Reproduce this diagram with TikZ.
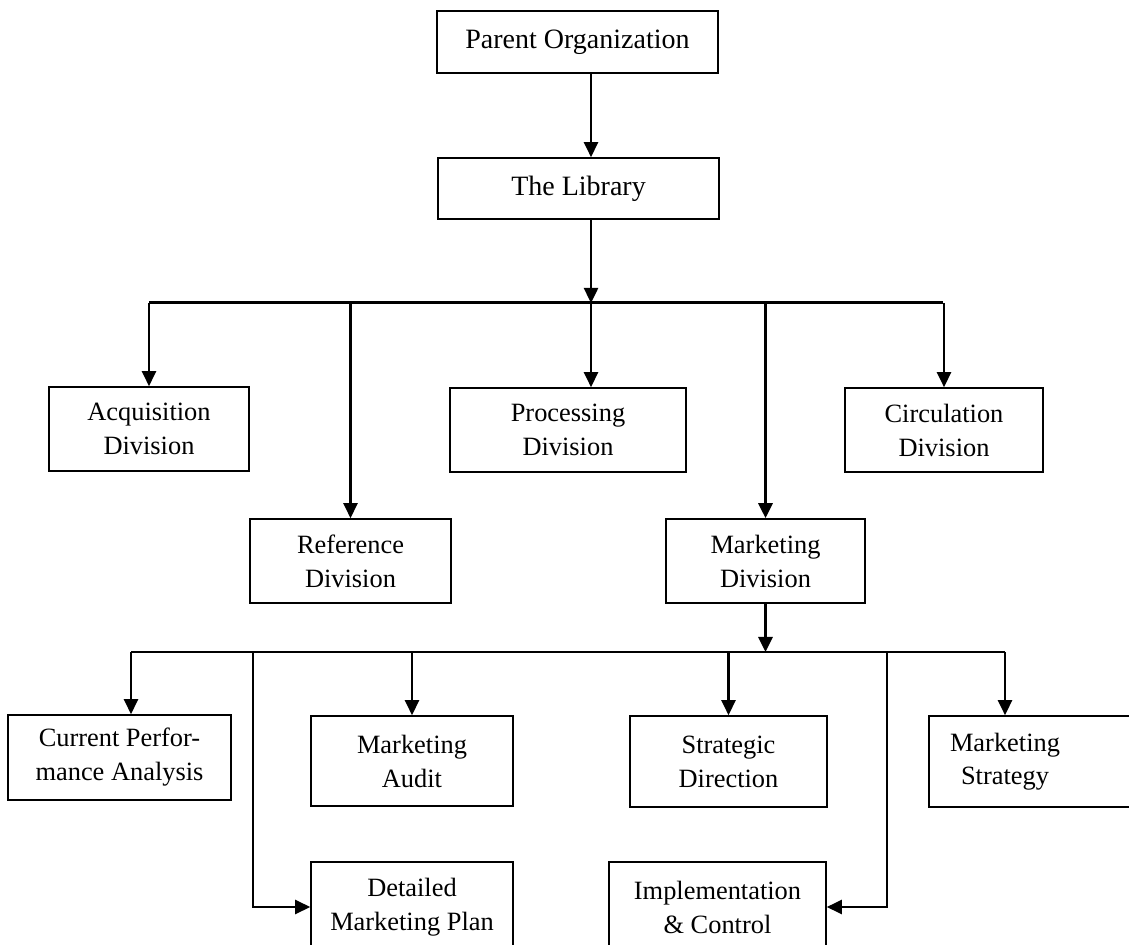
\documentclass[tikz,border=0pt]{standalone}
\usepackage{fontspec}
\setmainfont{Liberation Serif}
\usetikzlibrary{arrows.meta}
\begin{document}
\begin{tikzpicture}[x=0.5pt,y=-0.5pt,
  box/.style={draw=black, line width=0.8pt, inner sep=0pt, align=center,
    font=\fontsize{13.2}{17}\selectfont},
  topbox/.style={box, font=\fontsize{14}{17}\selectfont},
  arr/.style={line width=1.25pt, -{Triangle[width=7pt,length=7.5pt]}},
  bus/.style={line width=1.5pt},
  thin bus/.style={line width=1.1pt}]
\useasboundingbox (0,0) rectangle (1129,945);
\clip (0,0) rectangle (1129,945);

% nodes
\node[topbox, minimum width=140.5pt, minimum height=31pt] (parent) at (577.5,42) {Parent Organization};
\node[topbox, minimum width=140.5pt, minimum height=30.5pt] (library) at (578.5,188.5) {The Library};

\node[box, minimum width=100pt, minimum height=42pt] (acq) at (149,429) {Acquisition\\Division};
\node[box, minimum width=118pt, minimum height=42pt] (proc) at (568,430) {Processing\\Division};
\node[box, minimum width=99pt, minimum height=42pt] (circ) at (944,430) {Circulation\\Division};
\node[box, minimum width=100.5pt, minimum height=42pt] (ref) at (350.5,561) {Reference\\Division};
\node[box, minimum width=99.5pt, minimum height=42pt] (mkt) at (765.5,561) {Marketing\\Division};

\node[box, minimum width=111.5pt, minimum height=42.5pt] (cpa) at (119.5,757.5) {Current Perfor-\\mance Analysis};
\node[box, minimum width=101pt, minimum height=45pt] (audit) at (412,761) {Marketing\\Audit};
\node[box, minimum width=98.5pt, minimum height=45.5pt] (strat) at (728.5,761.5) {Strategic\\Direction};
\node[box, minimum width=105.5pt, minimum height=45.5pt] (mstrat) at (1034.5,761.5)
  {\hspace*{-29.5pt}\begin{tabular}{@{}c@{}}Marketing\\[-0.5pt]Strategy\end{tabular}};
\node[box, minimum width=101pt, minimum height=45pt] (detailed) at (412,907) {Detailed\\Marketing Plan};
\node[box, minimum width=108.5pt, minimum height=45pt] (impl) at (717.5,907) {Implementation\\\& Control};

% junction coordinates
\coordinate (j0) at (591,303);
\coordinate (b1L) at (149,303);
\coordinate (b1R) at (943,303);
\coordinate (b2L) at (131,652);
\coordinate (b2R) at (1005,652);
\coordinate (dT) at (253,652);
\coordinate (iT) at (887,652);

% top connectors
\draw[arr] (parent.south -| j0) -- (library.north -| j0);
\draw[bus] (b1L) -- (b1R);
\draw[arr] (library.south -| j0) -- (j0);

% level 1 drops
\draw[arr] (acq.north |- b1L) -- (acq.north);
\draw[arr] (ref.north |- b1L) -- (ref.north);
\draw[arr] (j0) -- (proc.north -| j0);
\draw[arr, line width=1.6pt] (mkt.north |- b1L) -- (mkt.north);
\draw[arr] (circ.north |- b1R) -- (circ.north);

% marketing subtree
\draw[thin bus] (b2L) -- (b2R);
\draw[arr, line width=1.6pt] (mkt.south) -- (mkt.south |- b2L);
\draw[arr] (b2L) -- (cpa.north -| b2L);
\draw[arr] (audit.north |- b2L) -- (audit.north);
\draw[arr] (strat.north |- b2L) -- (strat.north);
\draw[arr] (b2R) -- (mstrat.north -| b2R);
\draw[arr] (dT) |- (detailed.west);
\draw[arr] (iT) |- (impl.east);
\end{tikzpicture}
\end{document}
